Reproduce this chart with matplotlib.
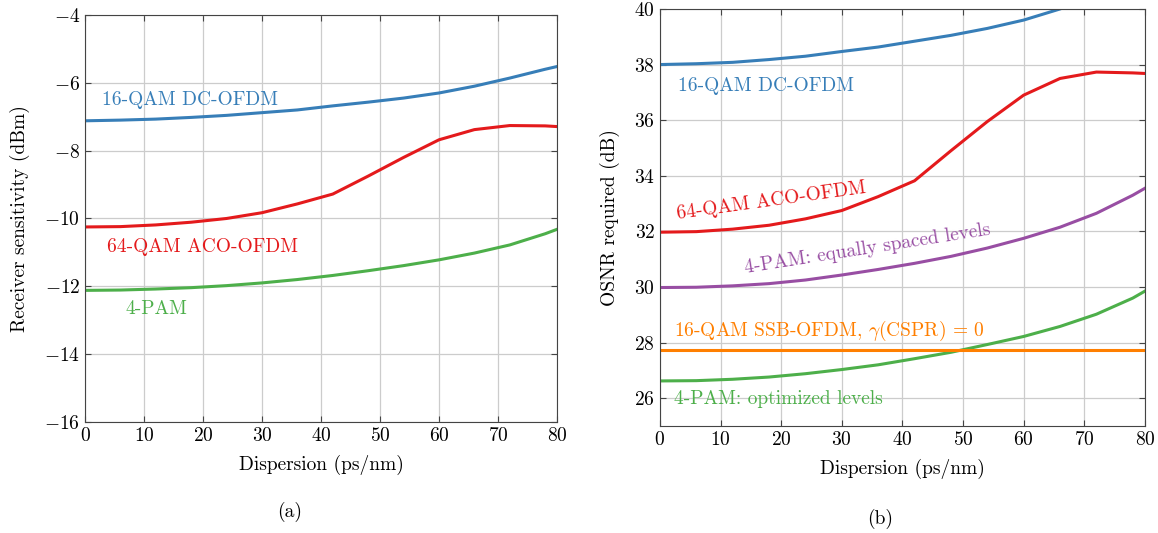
import matplotlib
matplotlib.use("Agg")
import matplotlib.pyplot as plt

plt.rcParams['font.family'] = 'serif'
plt.rcParams['font.serif'] = ['cmr10', 'DejaVu Serif']
plt.rcParams['mathtext.fontset'] = 'cm'
plt.rcParams['axes.formatter.use_mathtext'] = True
plt.rcParams['axes.unicode_minus'] = True

# dispersion samples (ps/nm)
disp = [0, 6, 12, 18, 24, 30, 36, 42, 48, 54, 60, 66, 72, 78, 80]

# (a) receiver sensitivity (dBm)
sens_dc16 = [-7.12, -7.10, -7.07, -7.02, -6.96, -6.88, -6.80, -6.68, -6.57, -6.45, -6.30, -6.10, -5.86, -5.60, -5.52]
sens_aco64 = [-10.25, -10.24, -10.19, -10.11, -10.00, -9.83, -9.57, -9.28, -8.75, -8.20, -7.68, -7.38, -7.26, -7.27, -7.29]
sens_pam4 = [-12.12, -12.11, -12.08, -12.04, -11.98, -11.90, -11.80, -11.68, -11.54, -11.39, -11.22, -11.02, -10.78, -10.45, -10.32]

# (b) required OSNR (dB)
osnr_dc16 = [38.0, 38.03, 38.08, 38.18, 38.30, 38.47, 38.63, 38.84, 39.05, 39.30, 39.60, 40.0, 40.5, 41.0, 41.2]
osnr_aco64 = [31.97, 31.99, 32.08, 32.22, 32.45, 32.75, 33.25, 33.82, 34.9, 35.95, 36.9, 37.5, 37.73, 37.7, 37.68]
osnr_pam4_eq = [29.98, 29.99, 30.04, 30.12, 30.25, 30.43, 30.63, 30.85, 31.1, 31.4, 31.75, 32.15, 32.65, 33.3, 33.55]
osnr_pam4_opt = [26.62, 26.63, 26.68, 26.76, 26.88, 27.03, 27.2, 27.42, 27.65, 27.93, 28.22, 28.58, 29.02, 29.6, 29.85]
osnr_ssb16 = 27.75

blue = '#377eb8'
red = '#e41a1c'
green = '#4daf4a'
purple = '#984ea3'
orange = '#ff7f00'

fig = plt.figure(figsize=(11.58, 5.33), dpi=100)
ax1 = fig.add_axes([0.0734, 0.2083, 0.4076, 0.7636])
ax2 = fig.add_axes([0.5699, 0.2008, 0.4188, 0.7824])

fs = 14
for ax in (ax1, ax2):
    ax.grid(True, color='#cccccc', linewidth=0.9)
    ax.set_axisbelow(True)
    ax.tick_params(direction='in', top=True, right=True, labelsize=fs, length=4, color='#444444')
    for s in ax.spines.values():
        s.set_color('#444444')
    ax.set_xlim(0, 80)
    ax.set_xticks(range(0, 81, 10))
    ax.set_xlabel('Dispersion (ps/nm)', fontsize=fs, labelpad=7)

lw = 2.2
ax1.plot(disp, sens_dc16, color=blue, lw=lw)
ax1.plot(disp, sens_aco64, color=red, lw=lw)
ax1.plot(disp, sens_pam4, color=green, lw=lw)
ax1.set_ylim(-16, -4)
ax1.set_yticks(range(-16, -3, 2))
ax1.set_ylabel('Receiver sensitivity (dBm)', fontsize=fs, labelpad=10)
ax1.text(2.9, -6.5, '16-QAM DC-OFDM', color=blue, fontsize=fs, va='center')
ax1.text(3.7, -10.85, '64-QAM ACO-OFDM', color=red, fontsize=fs, va='center')
ax1.text(6.8, -12.67, '4-PAM', color=green, fontsize=fs, va='center')

ax2.plot(disp, osnr_dc16, color=blue, lw=lw)
ax2.plot(disp, osnr_aco64, color=red, lw=lw)
ax2.plot(disp, osnr_pam4_eq, color=purple, lw=lw)
ax2.plot(disp, osnr_pam4_opt, color=green, lw=lw)
ax2.axhline(osnr_ssb16, color=orange, lw=lw)
ax2.set_ylim(25, 40)
ax2.set_yticks(range(26, 41, 2))
ax2.set_ylabel('OSNR required (dB)', fontsize=fs, labelpad=10)
ax2.text(3.0, 37.23, '16-QAM DC-OFDM', color=blue, fontsize=fs, va='center')
ax2.text(18.3, 33.1, '64-QAM ACO-OFDM', color=red, fontsize=fs, va='center', ha='center',
         rotation=7.9, rotation_mode='anchor')
ax2.text(34.3, 31.37, '4-PAM: equally spaced levels', color=purple, fontsize=fs, va='center',
         ha='center', rotation=8.9, rotation_mode='anchor')
ax2.text(2.3, 28.42, r'16-QAM SSB-OFDM, $\gamma$(CSPR) = 0', color=orange, fontsize=fs, va='center')
ax2.text(2.3, 25.97, '4-PAM: optimized levels', color=green, fontsize=fs, va='center')

fig.text(290 / 1158, 1 - 512 / 533, '(a)', fontsize=fs, ha='center', va='center')
fig.text(880 / 1158, 1 - 519 / 533, '(b)', fontsize=fs, ha='center', va='center')

fig.savefig('out.png', dpi=100)
